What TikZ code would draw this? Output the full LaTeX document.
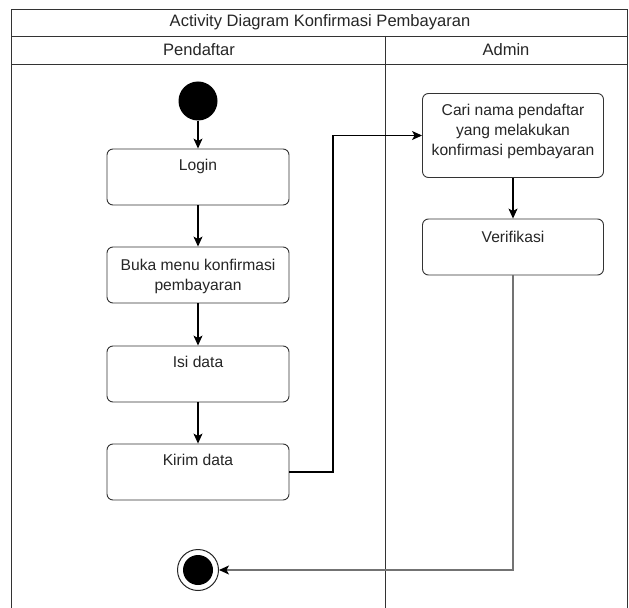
\documentclass[tikz,border=0pt]{standalone}
\usepackage{fontspec}
\setmainfont{Liberation Sans}
\usetikzlibrary{arrows.meta}
\begin{document}
\begin{tikzpicture}[x=1bp,y=1bp,
  frameline/.style={draw=black!80,line width=0.9bp},
  actbox/.style={draw=black!80,line width=0.9bp,rounded corners=6bp,
    minimum width=182bp,minimum height=56bp,inner sep=0pt,fill=white},
  acttext/.style={anchor=north,inner sep=0pt,align=center,text=black!85,
    font=\fontsize{15.7}{20}\selectfont},
  flow/.style={draw=black,line width=1.1bp,
    -{Stealth[length=10bp,width=9bp,inset=2.5bp]}},
  softflow/.style={draw=black!55,line width=1.1bp,
    -{Stealth[length=10bp,width=9bp,inset=2.5bp,color=black]}},
  lbl/.style={inner sep=0pt,text=black!85,font=\fontsize{16.6}{20}\selectfont}]
\useasboundingbox[fill=white] (0,-608) rectangle (629,0);

% swimlane frame
\coordinate (tl) at (11,-9.5);
\coordinate (tr) at (627,-9.5);
\coordinate (bl) at (11,-608);
\coordinate (br) at (627,-608);
\coordinate (ht) at (385,-36);
\coordinate (hb) at (385,-608);
\draw[frameline] (bl) -- (tl) -- (tr) -- (br);
\draw[frameline] (11,-36) -- (627,-36);
\draw[frameline] (11,-64) -- (627,-64);
\draw[frameline] (ht) -- (hb);
\node[lbl] (title) at (320,-22.5) {Activity Diagram Konfirmasi Pembayaran};
\node[lbl] (laneA) at (199,-50) {Pendaftar};
\node[lbl] (laneB) at (506,-50) {Admin};

% Pendaftar lane
\node[circle,fill=black,minimum size=39bp,inner sep=0pt] (start) at (198,-101) {};
\node[actbox] (login) at (198,-177) {};
\node[acttext] at ([yshift=-10bp]login.north) {Login};
\node[actbox] (buka) at (198,-275) {};
\node[acttext] at ([yshift=-12bp]buka.north) {Buka menu konfirmasi\\pembayaran};
\node[actbox] (isi) at (198,-374) {};
\node[acttext] at ([yshift=-10bp]isi.north) {Isi data};
\node[actbox] (kirim) at (198,-472) {};
\node[acttext] at ([yshift=-10bp]kirim.north) {Kirim data};
\node[circle,draw=black!85,line width=1bp,fill=white,minimum size=41bp,inner sep=0pt] (end) at (198,-570) {};
\node[circle,fill=black,minimum size=30bp,inner sep=0pt] (endcore) at (198,-570) {};

% Admin lane
\node[actbox,minimum width=181bp,minimum height=84bp] (cari) at (513,-135.5) {};
\node[acttext] at ([yshift=-11bp]cari.north) {Cari nama pendaftar\\yang melakukan\\konfirmasi pembayaran};
\node[actbox,minimum width=181bp] (verif) at (513,-247) {};
\node[acttext] at ([yshift=-12bp]verif.north) {Verifikasi};

% control flow
\draw[flow] (start) -- (login);
\draw[flow] (login) -- (buka);
\draw[flow] (buka) -- (isi);
\draw[flow] (isi) -- (kirim);
\draw[flow] (kirim.east) -- (333,-472) -- (333,-135.5) -- (cari.west);
\draw[flow] (cari) -- (verif);
\draw[softflow] (verif.south) -- (513,-570) -- (end.east);
\end{tikzpicture}
\end{document}
